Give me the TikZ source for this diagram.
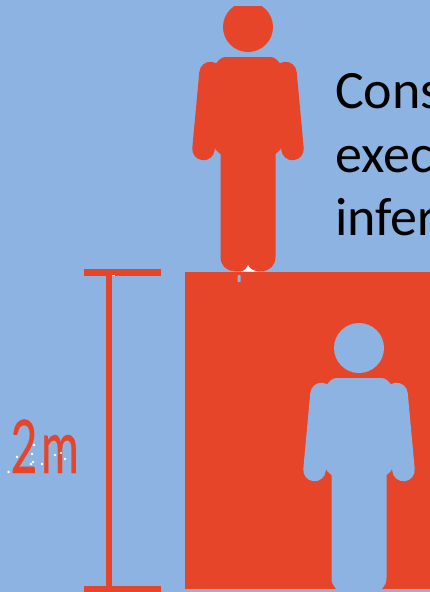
\documentclass[tikz,border=0pt]{standalone}
\usepackage{fontspec}
\setmainfont{Carlito}
\newfontfamily\labelfont[FakeBold=0.5]{Lato}
\definecolor{skyback}{HTML}{8DB3E2}
\definecolor{redfill}{HTML}{E64529}
\tikzset{
  every picture/.style={x=1pt,y=-1pt},
  bartick/.style={fill=redfill,draw=none},
  bodytext/.style={font=\fontsize{54}{54}\selectfont,text=black,anchor=base west,inner sep=0pt},
  speck/.style={fill=white,draw=none},
}
\newcommand{\personfig}[3]{%
  % #1 centre x, #2 torso top y, #3 colour
  \begin{scope}[shift={(#1,#2)}]
    \fill[#3] (0,-30) circle (25);
    \draw[#3,line width=22.5pt,line cap=round] (-37.5,16) -- (-44.5,92);
    \draw[#3,line width=22.5pt,line cap=round] (37.5,16) -- (44.5,92);
    \fill[#3] (-22,0) -- (22,0) .. controls (26,0) and (29,2) .. (33,8)
      -- (33,90) .. controls (33,93) and (30,95) .. (27.5,97)
      -- (27.5,200) .. controls (27.5,208) and (22,214) .. (14,214)
      -- (-14,214) .. controls (-22,214) and (-27.5,208) .. (-27.5,200)
      -- (-27.5,97) .. controls (-30,95) and (-33,93) .. (-33,90)
      -- (-33,8) .. controls (-29,2) and (-26,0) .. (-22,0) -- cycle;
  \end{scope}}
\begin{document}
\begin{tikzpicture}
\useasboundingbox (0,0) rectangle (430,592);
\begin{scope}
\clip (0,0) rectangle (430,592);
\fill[skyback] (0,0) rectangle (430,592);
% text
\node[bodytext] (lineone) at (335,108.5) {Cons};
\node[bodytext] (linetwo) at (335,172.5) {exec};
\node[bodytext] (linethree) at (335,235.5) {infer};
% box
\fill[redfill] (185,272) rectangle (430,589);
% upper person, head cut at the top
\begin{scope}
\clip (0,6) rectangle (430,272);
\personfig{248}{57}{redfill}
\end{scope}
\fill[white] (241,271.5) .. controls (245,270.5) and (247,268) .. (248,265)
  .. controls (249,268) and (252,270.5) .. (258,271.5) -- cycle;
\fill[skyback,rounded corners=0.5pt] (237.5,275) rectangle (240.5,282);
% lower person
\begin{scope}
\clip (185,272) rectangle (430,589);
\personfig{359}{378}{skyback}
\end{scope}
% dimension bar
\fill[bartick] (84,269) rectangle (161,276);
\fill[bartick] (106,272) rectangle (112,589);
\fill[bartick] (84,586) rectangle (161,592);
\fill[speck] (112,274.5) rectangle (115,276);
% label
\node[inner sep=0pt,anchor=base west,text=redfill] (heightlabel) at (10.5,473)
  {\labelfont\fontsize{74}{74}\selectfont\scalebox{0.62}[1]{2\kern6pt m}};
% specks
\foreach \px/\py in {8.5/472, 17/457, 34/445, 32/454, 33/462, 31/464, 42/464, 55/455, 61/453, 65/459}
  \fill[speck] (\px,\py) circle (1.4);
\end{scope}
\end{tikzpicture}
\end{document}
